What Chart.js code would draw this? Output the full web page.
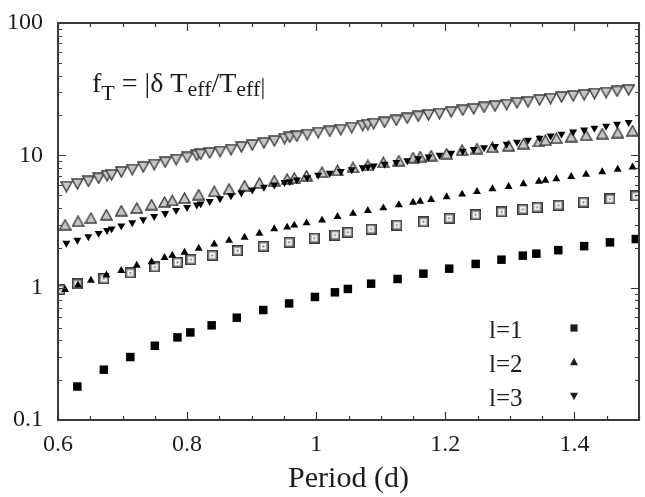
<!DOCTYPE html>
<html>
<head>
<meta charset="utf-8">
<script src="https://cdn.jsdelivr.net/npm/chart.js@4.4.1/dist/chart.umd.min.js"></script>
<style>
  html, body { margin: 0; padding: 0; background: #fff; }
</style>
</head>
<body>
<canvas id="fTChart" width="645" height="497"></canvas>
<script>
// l=1 (squares): filled = one model, open = the other
const periodsL1 = [0.630, 0.671, 0.712, 0.750, 0.785, 0.805, 0.838, 0.877, 0.918, 0.958, 0.998, 1.029, 1.049,
    1.085, 1.126, 1.166, 1.206, 1.247, 1.287, 1.320, 1.341, 1.375, 1.415, 1.455, 1.495];
const fL1 = [0.179, 0.240, 0.299, 0.364, 0.421, 0.459, 0.519, 0.593, 0.678, 0.760, 0.851, 0.922, 0.978,
    1.072, 1.163, 1.276, 1.392, 1.511, 1.628, 1.746, 1.807, 1.920, 2.06, 2.20, 2.33];
const periodsL1Open = [0.603, 0.630, 0.671, 0.712, 0.750, 0.785, 0.806, 0.839, 0.878, 0.918, 0.958, 0.997, 1.029,
    1.049, 1.085, 1.125, 1.166, 1.206, 1.247, 1.287, 1.320, 1.342, 1.375, 1.414, 1.455, 1.495];
const fL1Open = [0.966, 1.066, 1.170, 1.291, 1.433, 1.553, 1.628, 1.754, 1.903, 2.05, 2.20, 2.37, 2.50,
    2.62, 2.77, 2.97, 3.14, 3.34, 3.55, 3.74, 3.91, 4.05, 4.20, 4.43, 4.68, 4.93];

// l=2 (up triangles)
const periodsL2 = [0.611, 0.631, 0.651, 0.675, 0.698, 0.722, 0.745, 0.765, 0.777, 0.796, 0.818, 0.842, 0.865, 0.889,
    0.912, 0.935, 0.955, 0.966, 0.985, 1.009, 1.033, 1.057, 1.080, 1.104, 1.128, 1.150, 1.161, 1.178,
    1.202, 1.226, 1.249, 1.273, 1.298, 1.321, 1.345, 1.355, 1.372, 1.395, 1.418, 1.443, 1.467, 1.490];
const fL2 = [0.966, 1.044, 1.135, 1.243, 1.344, 1.474, 1.567, 1.686, 1.754, 1.848, 1.982, 2.13, 2.27, 2.40,
    2.57, 2.78, 2.86, 2.96, 3.08, 3.23, 3.44, 3.63, 3.82, 4.00, 4.22, 4.41, 4.49, 4.63,
    4.85, 5.08, 5.32, 5.57, 5.80, 6.08, 6.35, 6.46, 6.64, 6.90, 7.18, 7.50, 7.82, 8.15];
const fL2Open = [2.99, 3.18, 3.36, 3.56, 3.82, 4.00, 4.24, 4.44, 4.57, 4.76, 5.05, 5.35, 5.57, 5.90,
    6.18, 6.44, 6.63, 6.75, 7.02, 7.46, 7.70, 8.12, 8.40, 8.85, 9.12, 9.61, 9.78, 9.95,
    10.30, 10.95, 11.24, 11.53, 11.84, 12.26, 12.76, 12.99, 13.49, 13.85, 14.21, 14.59, 14.85, 15.37];

// l=3 (down triangles)
const periodsL3 = [0.613, 0.630, 0.647, 0.663, 0.676, 0.683, 0.698, 0.715, 0.732, 0.749, 0.766, 0.783, 0.800, 0.815,
    0.821, 0.835, 0.851, 0.868, 0.884, 0.901, 0.919, 0.935, 0.951, 0.959, 0.970, 0.986, 1.003, 1.021,
    1.038, 1.055, 1.072, 1.080, 1.089, 1.106, 1.124, 1.141, 1.158, 1.174, 1.191, 1.209, 1.227, 1.244,
    1.260, 1.277, 1.295, 1.311, 1.328, 1.346, 1.363, 1.380, 1.398, 1.415, 1.431, 1.449, 1.466, 1.484];
const fL3 = [2.17, 2.29, 2.43, 2.58, 2.71, 2.79, 2.94, 3.10, 3.27, 3.46, 3.64, 3.85, 4.05, 4.23,
    4.31, 4.49, 4.71, 4.96, 5.20, 5.48, 5.75, 5.98, 6.25, 6.35, 6.53, 6.78, 7.09, 7.34,
    7.57, 7.80, 8.07, 8.19, 8.32, 8.58, 8.85, 9.12, 9.44, 9.74, 10.04, 10.39, 10.76, 11.10,
    11.43, 11.70, 12.15, 12.58, 13.03, 13.53, 14.02, 14.51, 15.03, 15.56, 16.06, 16.62, 17.21, 17.76];
const fL3Open = [5.80, 6.08, 6.36, 6.70, 6.99, 7.11, 7.49, 7.80, 8.17, 8.51, 8.88, 9.28, 9.64, 9.98,
    10.18, 10.42, 10.67, 11.04, 11.57, 11.98, 12.41, 12.85, 13.37, 13.68, 13.92, 14.34, 14.85, 15.19,
    15.64, 16.20, 16.77, 17.06, 17.36, 17.76, 18.39, 19.04, 19.72, 20.20, 20.67, 21.28, 21.89, 22.43,
    23.06, 23.55, 24.17, 24.89, 25.37, 26.23, 26.83, 27.54, 28.12, 28.61, 29.27, 29.78, 30.46, 31.21];

const xTickValues = [0.6, 0.8, 1.0, 1.2, 1.4];
const xTickLabels = ['0.6', '0.8', '1', '1.2', '1.4'];
const yTickValues = [0.1, 1, 10, 100];
const yTickLabels = ['0.1', '1', '10', '100'];
const legendLabels = ['l=1', 'l=2', 'l=3'];

const SERIF = "'Liberation Serif', 'DejaVu Serif', serif";
const INK = '#1c1c1c';

function pts(xs, ys) {
    return xs.map((x, i) => ({ x: x, y: ys[i] }));
}

// grey open markers drawn once into small canvases
function markerCanvas(shape) {
    const c = document.createElement('canvas');
    if (shape === 'square') {
        c.width = 11; c.height = 11;
        const g = c.getContext('2d');
        g.fillStyle = '#3a3a3a'; g.fillRect(0, 0, 11, 11);
        g.fillStyle = '#b4b4b4'; g.fillRect(1.5, 1.5, 8, 8);
        g.fillStyle = '#fff'; g.fillRect(3, 3, 5, 5);
        g.fillStyle = '#777'; g.fillRect(4.5, 4.5, 2, 2);
    } else {
        c.width = 13; c.height = 12;
        const g = c.getContext('2d');
        g.fillStyle = '#c6c6c6'; g.strokeStyle = '#3c3c3c'; g.lineWidth = 1.4;
        g.beginPath();
        if (shape === 'up') { g.moveTo(6.5, 1); g.lineTo(12, 11); g.lineTo(1, 11); }
        else { g.moveTo(1, 1); g.lineTo(12, 1); g.lineTo(6.5, 11); }
        g.closePath(); g.fill(); g.stroke();
    }
    return c;
}

function drawShape(ctx, shape, x, y, r) {
    ctx.beginPath();
    if (shape === 'square') {
        ctx.rect(x - r, y - r, 2 * r, 2 * r);
    } else {
        const s = shape === 'up' ? 1 : -1;
        ctx.moveTo(x, y - s * r);
        ctx.lineTo(x + r * 0.95, y + s * r * 0.8);
        ctx.lineTo(x - r * 0.95, y + s * r * 0.8);
        ctx.closePath();
    }
    ctx.fill();
}

// inward ticks on all four sides plus the frame
const frameTicks = {
    id: 'frameTicks',
    afterDraw(chart) {
        const { ctx, chartArea: a, scales } = chart;
        const x = scales.x, y = scales.y;
        ctx.save();
        ctx.strokeStyle = '#3a3a3a';
        ctx.lineWidth = 1.2;
        ctx.beginPath();
        for (let k = 12; k <= 30; k++) {
            const px = Math.round(x.getPixelForValue(k / 20)) + 0.5;
            const len = k % 4 === 0 ? 8 : 4;
            ctx.moveTo(px, a.bottom); ctx.lineTo(px, a.bottom - len);
            ctx.moveTo(px, a.top); ctx.lineTo(px, a.top + len);
        }
        [0.1, 1, 10].forEach(d => {
            for (let m = 1; m <= 9; m++) {
                const py = Math.round(y.getPixelForValue(m * d)) + 0.5;
                const len = m === 1 ? 8 : 4;
                ctx.moveTo(a.left, py); ctx.lineTo(a.left + len, py);
                ctx.moveTo(a.right, py); ctx.lineTo(a.right - len, py);
            }
        });
        ctx.stroke();
        ctx.lineWidth = 2;
        ctx.strokeRect(a.left, a.top, a.right - a.left, a.bottom - a.top);
        ctx.restore();
    }
};

// formula label and the l=1..3 key
const annotations = {
    id: 'annotations',
    afterDraw(chart) {
        const { ctx, chartArea: a } = chart;
        ctx.save();
        ctx.fillStyle = INK;
        ctx.textBaseline = 'alphabetic';
        ctx.textAlign = 'left';

        const parts = [
            ['f', 0, 28], ['T', 8, 22], [' = |\u03B4 ', 0, 28], ['T', 0, 28], ['eff', 4, 22],
            ['/', 0, 28], ['T', 0, 28], ['eff', 4, 22], ['|', 2, 24]
        ];
        let tx = a.left + 34;
        const base = a.top + 69;
        parts.forEach(p => {
            ctx.font = p[2] + 'px ' + SERIF;
            ctx.fillText(p[0], tx, base + p[1]);
            tx += ctx.measureText(p[0]).width;
        });

        const shapes = ['square', 'up', 'down'];
        ctx.font = '25px ' + SERIF;
        legendLabels.forEach((label, i) => {
            const cy = a.top + 305 + i * 34;
            ctx.fillText(label, a.right - 150, cy + 10);
            drawShape(ctx, shapes[i], a.right - 65, cy, i === 0 ? 3.6 : 4.2);
        });
        ctx.restore();
    }
};

const openSquare = markerCanvas('square');
const openUp = markerCanvas('up');
const openDown = markerCanvas('down');

const ctx = document.getElementById('fTChart').getContext('2d');
const fTChart = new Chart(ctx, {
    type: 'scatter',
    data: {
        datasets: [
            { label: 'l=1', data: pts(periodsL1, fL1), pointStyle: 'rect', radius: 6,
              backgroundColor: '#000', borderWidth: 0 },
            { label: 'l=2', data: pts(periodsL2, fL2), pointStyle: 'triangle', radius: 4.6,
              backgroundColor: '#000', borderWidth: 0 },
            { label: 'l=3', data: pts(periodsL3, fL3), pointStyle: 'triangle', rotation: 180, radius: 4.6,
              backgroundColor: '#000', borderWidth: 0 },
            { label: 'l=1 open', data: pts(periodsL1Open, fL1Open), pointStyle: openSquare, radius: 5 },
            { label: 'l=2 open', data: pts(periodsL2, fL2Open), pointStyle: openUp, radius: 5 },
            { label: 'l=3 open', data: pts(periodsL3, fL3Open), pointStyle: openDown, radius: 5 }
        ]
    },
    options: {
        responsive: false,
        animation: false,
        events: [],
        layout: { padding: { top: 23, right: 5, left: 0, bottom: 0 } },
        plugins: { legend: { display: false }, tooltip: { enabled: false } },
        scales: {
            x: {
                type: 'linear', min: 0.6, max: 1.5,
                afterBuildTicks: s => { s.ticks = xTickValues.map(v => ({ value: v })); },
                afterFit: s => { s.height = 77; },
                ticks: { autoSkip: false, maxRotation: 0, padding: 10, color: INK,
                         font: { family: SERIF, size: 24 },
                         callback: (v, i) => xTickLabels[i] },
                grid: { display: false, drawTicks: false },
                border: { display: false },
                title: { display: true, text: 'Period (d)', color: INK,
                         font: { family: SERIF, size: 30 }, padding: { top: 0, bottom: 0 } }
            },
            y: {
                type: 'logarithmic', min: 0.1, max: 100,
                afterBuildTicks: s => { s.ticks = yTickValues.map(v => ({ value: v })); },
                // keep the label padding from pushing the plot top down
                afterFit: s => { s.width = 58; s.paddingTop = 0; s.paddingBottom = 0; },
                ticks: { autoSkip: false, padding: 15, color: INK,
                         font: { family: SERIF, size: 24 },
                         callback: (v, i) => yTickLabels[i] },
                grid: { display: false, drawTicks: false },
                border: { display: false }
            }
        }
    },
    plugins: [frameTicks, annotations]
});
</script>
</body>
</html>
